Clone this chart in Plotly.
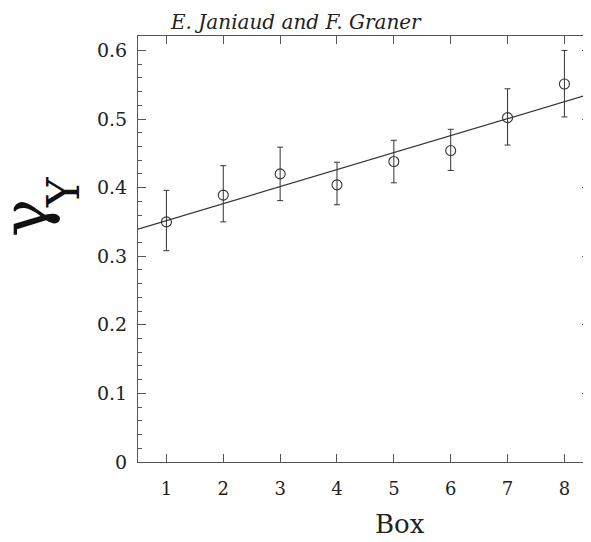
import plotly.graph_objects as go

box = [1, 2, 3, 4, 5, 6, 7, 8]
gamma_y = [0.350, 0.389, 0.420, 0.404, 0.438, 0.454, 0.502, 0.551]
err_plus = [0.046, 0.043, 0.039, 0.033, 0.031, 0.031, 0.042, 0.049]
err_minus = [0.042, 0.039, 0.039, 0.029, 0.031, 0.029, 0.040, 0.048]
fit_slope = 0.02477
fit_intercept = 0.3271
x_range = [0.5, 8.45]
y_ticks = [0, 0.1, 0.2, 0.3, 0.4, 0.5, 0.6]
y_labels = ["0", "0.1", "0.2", "0.3", "0.4", "0.5", "0.6"]

fit_y = [fit_intercept + fit_slope * x for x in x_range]

AX = "#555555"
INK = "#333333"
serif = "DejaVu Serif"

# the page body has an 8px margin; work in window pixels and shift
OFF = 8
W, H = 591 - OFF, 542 - OFF
L, R, T, B = 138 - OFF, 590 - OFF, 36 - OFF, 462 - OFF
PW, PH = R - L, B - T


def px(x):
    return (x - OFF - L) / PW


def py(y):
    return (B - (y - OFF)) / PH


fig = go.Figure()
fig.add_trace(go.Scatter(
    x=x_range, y=fit_y, mode="lines",
    line=dict(color=INK, width=1.2), showlegend=False, hoverinfo="skip"))
fig.add_trace(go.Scatter(
    x=box, y=gamma_y, mode="markers",
    marker=dict(symbol="circle-open", size=10, color=INK, line=dict(width=1.1)),
    error_y=dict(type="data", symmetric=False, array=err_plus, arrayminus=err_minus,
                 color=INK, thickness=1, width=3),
    showlegend=False))

fig.update_layout(
    width=W, height=H,
    margin=dict(l=L, r=W - R, t=T, b=H - B, autoexpand=False),
    paper_bgcolor="white", plot_bgcolor="white",
    font=dict(family=serif, color="#222222"),
    xaxis=dict(range=x_range, tickmode="array", tickvals=box,
               ticks="inside", ticklen=8, tickcolor=AX, tickwidth=1,
               showline=True, linecolor=AX, linewidth=1, mirror="ticks",
               showgrid=False, zeroline=False,
               tickfont=dict(family=serif, size=18, color="#222222"),
               ticklabelstandoff=10),
    yaxis=dict(range=[0, 0.621], tickmode="array", tickvals=y_ticks, ticktext=y_labels,
               ticks="inside", ticklen=8, tickcolor=AX, tickwidth=1,
               minor=dict(dtick=0.02, ticks="inside", ticklen=4, tickcolor=AX, showgrid=False),
               showline=True, linecolor=AX, linewidth=1, mirror="allticks",
               showgrid=False, zeroline=False,
               tickfont=dict(family=serif, size=19, color="#222222"),
               ticklabelstandoff=6),
    annotations=[
        dict(text="<i>E. Janiaud and F. Graner</i>", xref="paper", yref="paper",
             x=px(296), y=py(8), xanchor="center", yanchor="top",
             showarrow=False, font=dict(family=serif, size=20, color="#222222")),
        dict(text="Box", xref="paper", yref="paper",
             x=px(400), y=py(524), xanchor="center", yanchor="middle",
             showarrow=False, font=dict(family=serif, size=26, color="#222222")),
        dict(text="γ", xref="paper", yref="paper", textangle=-90,
             x=px(25), y=py(218), xanchor="center", yanchor="middle",
             showarrow=False, font=dict(family=serif, size=64, color="#111111")),
        dict(text="Υ", xref="paper", yref="paper", textangle=-90,
             x=px(64), y=py(192), xanchor="center", yanchor="middle",
             showarrow=False, font=dict(family=serif, size=45, color="#111111")),
    ],
)

fig.write_html("out.html")
